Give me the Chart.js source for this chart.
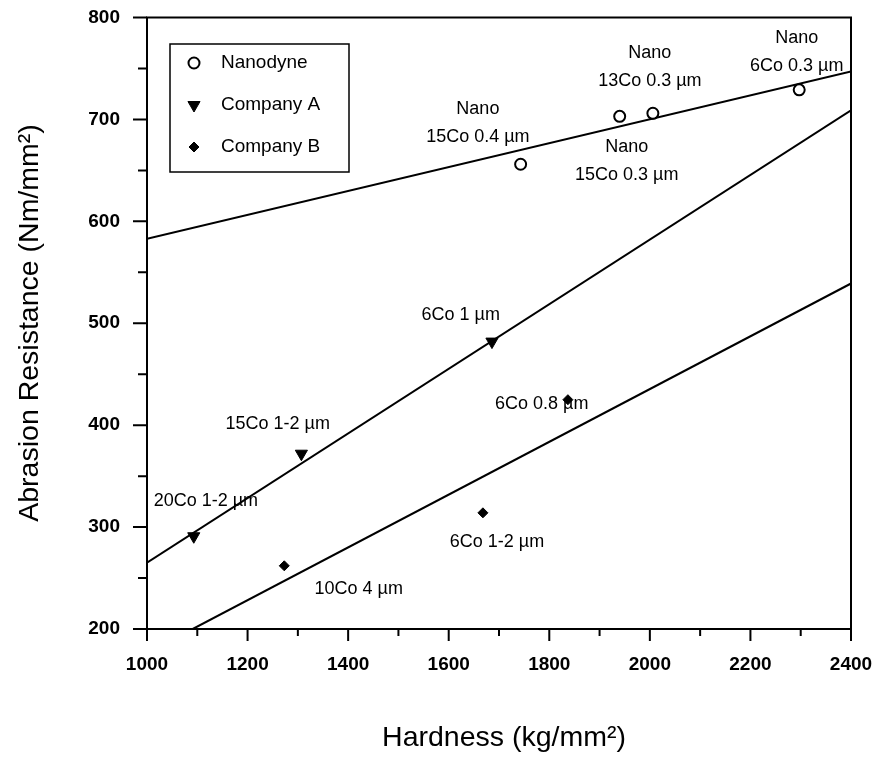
<!DOCTYPE html>
<html>
<head>
<meta charset="utf-8">
<script src="https://cdn.jsdelivr.net/npm/chart.js@4/dist/chart.umd.min.js"></script>
<style>
  html, body { margin: 0; padding: 0; background: #fff; }
</style>
</head>
<body>
<canvas id="abrasionChart" width="879" height="768"></canvas>
<script>
// measured points
const nanoHardness = [1743, 1940, 2006, 2297];
const nanoAbrasion = [656, 703, 706, 729];
const compAHardness = [1093, 1307, 1686];
const compAAbrasion = [291, 372, 482];
const compBHardness = [1273, 1668, 1837];
const compBAbrasion = [262, 314, 425];

// fitted lines (end points)
const nanoFitX = [1000, 2400];
const nanoFitY = [583, 747];
const compAFitX = [1000, 2400];
const compAFitY = [265, 709];
const compBFitX = [1091, 2400];
const compBFitY = [200, 539];

// axis ticks
const xTicks = [1000, 1200, 1400, 1600, 1800, 2000, 2200, 2400];
const xMinorTicks = [1100, 1300, 1500, 1700, 1900, 2100, 2300];
const yTicks = [200, 300, 400, 500, 600, 700, 800];
const yMinorTicks = [250, 350, 450, 550, 650, 750];

// point annotations (anchored in data units)
const noteX = [1658, 2000, 2292, 1954, 1624, 1785, 1260, 1117, 1696, 1421];
const noteY = [696, 751, 766, 659, 508, 421, 401, 326, 285, 239];
const noteText = [
  ['Nano', '15Co 0.4 µm'],
  ['Nano', '13Co 0.3 µm'],
  ['Nano', '6Co 0.3 µm'],
  ['Nano', '15Co 0.3 µm'],
  ['6Co 1 µm'],
  ['6Co 0.8 µm'],
  ['15Co 1-2 µm'],
  ['20Co 1-2 µm'],
  ['6Co 1-2 µm'],
  ['10Co 4 µm']
];

const FONT = "'Liberation Sans', Arial, Helvetica, sans-serif";

function zip(xs, ys) {
  return xs.map((x, i) => ({ x: x, y: ys[i] }));
}

const pointSets = [
  { label: 'Nanodyne', data: zip(nanoHardness, nanoAbrasion), pointStyle: 'circle',
    pointRadius: 5.5, pointBorderWidth: 2, pointBackgroundColor: '#fff', pointBorderColor: '#000', rotation: 0 },
  { label: 'Company A', data: zip(compAHardness, compAAbrasion), pointStyle: 'triangle',
    pointRadius: 7, pointBorderWidth: 1, pointBackgroundColor: '#000', pointBorderColor: '#000', rotation: 180 },
  { label: 'Company B', data: zip(compBHardness, compBAbrasion), pointStyle: 'rectRot',
    pointRadius: 5, pointBorderWidth: 1, pointBackgroundColor: '#000', pointBorderColor: '#000', rotation: 0 }
];

const lineSets = [
  zip(nanoFitX, nanoFitY),
  zip(compAFitX, compAFitY),
  zip(compBFitX, compBFitY)
].map(d => ({
  data: d, showLine: true, borderColor: '#000', borderWidth: 2,
  pointRadius: 0, fill: false
}));

// frame, tick marks, titles, notes and legend
const decor = {
  id: 'decor',
  afterDraw(chart) {
    const c = chart.ctx;
    const a = chart.chartArea;
    const xs = chart.scales.x, ys = chart.scales.y;
    c.save();
    c.strokeStyle = '#000';
    c.lineWidth = 2;
    c.strokeRect(a.left, a.top, a.right - a.left, a.bottom - a.top);

    c.beginPath();
    xTicks.forEach(v => { const p = xs.getPixelForValue(v); c.moveTo(p, a.bottom); c.lineTo(p, a.bottom + 12); });
    xMinorTicks.forEach(v => { const p = xs.getPixelForValue(v); c.moveTo(p, a.bottom); c.lineTo(p, a.bottom + 7); });
    yTicks.forEach(v => { const p = ys.getPixelForValue(v); c.moveTo(a.left, p); c.lineTo(a.left - 14, p); });
    yMinorTicks.forEach(v => { const p = ys.getPixelForValue(v); c.moveTo(a.left, p); c.lineTo(a.left - 9, p); });
    c.stroke();

    // axis titles
    c.fillStyle = '#000';
    c.font = '28.5px ' + FONT;
    c.textAlign = 'center';
    c.textBaseline = 'middle';
    c.fillText('Hardness (kg/mm²)', 504, 738);
    c.save();
    c.translate(30, 323);
    c.rotate(-Math.PI / 2);
    c.fillText('Abrasion Resistance (Nm/mm²)', 0, 0);
    c.restore();

    // notes
    c.font = '18px ' + FONT;
    noteText.forEach((lines, i) => {
      const px = xs.getPixelForValue(noteX[i]);
      const py = ys.getPixelForValue(noteY[i]);
      const top = py - (lines.length - 1) * 14;
      lines.forEach((t, j) => c.fillText(t, px, top + j * 28));
    });

    // legend box
    c.lineWidth = 1.5;
    c.strokeRect(170, 44, 179, 128);
    c.font = '19px ' + FONT;
    c.textAlign = 'left';
    const rowY = [63, 105, 147];
    pointSets.forEach((ds, i) => {
      c.fillStyle = ds.pointBackgroundColor;
      c.strokeStyle = ds.pointBorderColor;
      c.lineWidth = ds.pointBorderWidth;
      Chart.helpers.drawPoint(c, { pointStyle: ds.pointStyle, radius: ds.pointRadius, rotation: ds.rotation, borderWidth: ds.pointBorderWidth }, 194, rowY[i]);
      c.fillStyle = '#000';
      c.fillText(ds.label, 221, rowY[i]);
    });
    c.restore();
  }
};

const ctx = document.getElementById('abrasionChart').getContext('2d');
const abrasionChart = new Chart(ctx, {
  type: 'scatter',
  data: { datasets: pointSets.concat(lineSets) },
  options: {
    responsive: false,
    animation: false,
    layout: { padding: { top: 17.5, right: 28, left: 0, bottom: 0 } },
    plugins: { legend: { display: false }, tooltip: { enabled: false } },
    scales: {
      x: {
        type: 'linear', min: 1000, max: 2400,
        afterBuildTicks: s => { s.ticks = xTicks.map(v => ({ value: v })); },
        afterFit: s => { s.height = 139; s.paddingLeft = 0; s.paddingRight = 0; },
        grid: { display: false, drawTicks: false },
        border: { display: false },
        ticks: { color: '#000', padding: 24, maxRotation: 0, callback: v => String(v),
                 font: { family: FONT, size: 19, weight: 'bold' } }
      },
      y: {
        type: 'linear', min: 200, max: 800,
        afterBuildTicks: s => { s.ticks = yTicks.map(v => ({ value: v })); },
        afterFit: s => { s.width = 147; s.paddingTop = 0; s.paddingBottom = 0; },
        grid: { display: false, drawTicks: false },
        border: { display: false },
        ticks: { color: '#000', padding: 27, callback: v => String(v),
                 font: { family: FONT, size: 19, weight: 'bold' } }
      }
    }
  },
  plugins: [decor]
});
</script>
</body>
</html>
